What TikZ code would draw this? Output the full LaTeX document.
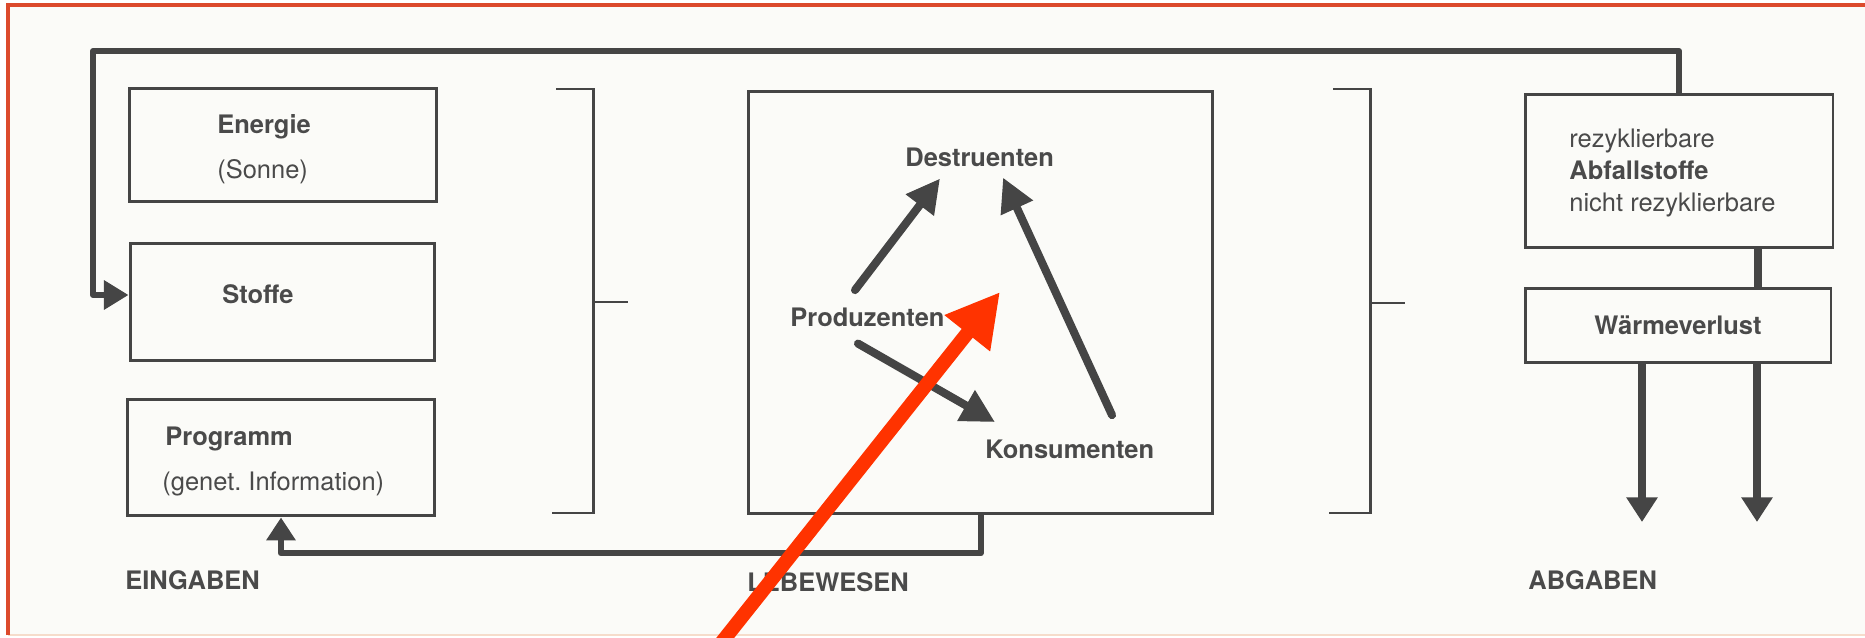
\documentclass[tikz,border=0pt]{standalone}
\usepackage{fontspec}
\setmainfont{TeX Gyre Heros}
\usetikzlibrary{arrows.meta,calc}

\definecolor{ink}{HTML}{454545}
\definecolor{txt}{HTML}{4A4A4A}
\definecolor{paper}{HTML}{FBFBF8}
\definecolor{framered}{HTML}{DC4A2C}
\definecolor{framepeach}{HTML}{F6DCCB}
\definecolor{marker}{HTML}{FF3300}

\tikzset{
    box/.style={draw=ink, line width=1.7pt, rectangle, inner sep=0pt},
    lbl/.style={font=\fontsize{14.5}{16}\selectfont\bfseries, text=txt, inner sep=0pt, anchor=base west},
    sub/.style={font=\fontsize{14.5}{16}\selectfont, text=txt, inner sep=0pt, anchor=base west},
    feedback/.style={draw=ink, line width=3.4pt, line join=round},
    flow/.style={draw=ink, line width=4.6pt, line cap=round, -{Triangle[length=19pt, width=19pt]}},
    bracket/.style={draw=ink, line width=1.7pt},
    markerarrow/.style={draw=marker, line width=8pt, -{Triangle[length=30pt, width=31pt]}}
}

\begin{document}
\begin{tikzpicture}[x=0.02cm, y=-0.02cm]

    % 0. Blatt mit Rahmen
    \clip (0,0) rectangle (1865,638);
    \fill[white] (0,0) rectangle (1865,638);
    \fill[paper] (8,5) rectangle (1865,635);
    \draw[framepeach, line width=1.4pt] (8,635) -- (1865,635);
    \draw[framered, line width=1.8pt] (8,635) -- (8,5) -- (1865,5);

    % 1. Eingaben
    \node[box, minimum width=6.14cm, minimum height=2.28cm] (ener) at (283,145) {};
    \node[box, minimum width=6.10cm, minimum height=2.36cm] (stof) at (282.5,302) {};
    \node[box, minimum width=6.16cm, minimum height=2.34cm] (prog) at (281,457.5) {};
    \node[lbl] (enertxt) at (217,134) {Energie};
    \node[sub] (sonne) at (217,179) {(Sonne)};
    \node[lbl] (stoftxt) at (222,304) {Stoffe};
    \node[lbl] (progtxt) at (165,445) {Programm};
    \node[sub] (geninfo) at (162,490) {(genet.\ Information)};
    \node[lbl] (ein) at (125,589) {EINGABEN};

    % 2. Lebewesen
    \node[box, minimum width=9.30cm, minimum height=8.46cm] (leben) at (980.5,302.5) {};
    \node[lbl] (dest) at (905,167) {Destruenten};
    \node[lbl] (prod) at (790,327) {Produzenten};
    \node[lbl] (kons) at (985,458) {Konsumenten};
    \node[lbl] (leb) at (747,591) {LEBEWESEN};

    \draw[flow] ($(prod.north west)+(65,-18)$) -- ($(dest.south west)+(35,11)$);
    \draw[flow] ($(prod.south west)+(68,16)$) -- ($(kons.north west)+(10,-17)$);
    \draw[flow] ($(kons.north west)+(127,-24)$) -- ($(dest.south west)+(98,10)$);

    % 3. Abgaben
    \node[box, minimum width=6.16cm, minimum height=3.08cm] (abfall) at (1679,171) {};
    \node[box, minimum width=6.12cm, minimum height=1.50cm,
          font=\fontsize{14.5}{16}\selectfont\bfseries, text=txt] (waerme) at (1678,325.5) {Wärmeverlust};
    \node[sub] (rez) at (1569,148) {rezyklierbare};
    \node[lbl] (abf) at (1569,180) {Abfallstoffe};
    \node[sub] (nrez) at (1569,212) {nicht rezyklierbare};
    \node[lbl] (ab) at (1528,589) {ABGABEN};

    \coordinate (link) at (1758,0);
    \draw[feedback, line width=4.5pt] (abfall.south -| link) -- (waerme.north -| link);

    \coordinate (out1) at (1642,522);
    \coordinate (out2) at (1757,522);
    \foreach \o in {out1,out2} {
        \draw[flow, line cap=butt, -{Triangle[length=14pt, width=17pt]}] (waerme.south -| \o) -- (\o);
    }

    % 4. Klammern
    \foreach \bx/\tick in {593/302,1370/303} {
        \draw[bracket] (\bx-37,89) -- (\bx,89) -- (\bx,513) -- (\bx-41,513);
        \draw[bracket] (\bx,\tick) -- (\bx+35,\tick);
    }

    % 5. Rueckkopplungen
    \draw[feedback, -{Triangle[length=14pt, width=16pt]}] (abfall.north) |- (93,51) |- ($(stof.west)+(0,-7)$);
    \draw[feedback, -{Triangle[length=13pt, width=16pt]}] (leben.south) -- ++(0,38) -| (prog.south);

    % 6. Markierungspfeil
    \coordinate (rtail) at (718,647);
    \coordinate (rtip) at (1000,292);
    \draw[markerarrow] (rtail) -- (rtip);

\end{tikzpicture}
\end{document}
